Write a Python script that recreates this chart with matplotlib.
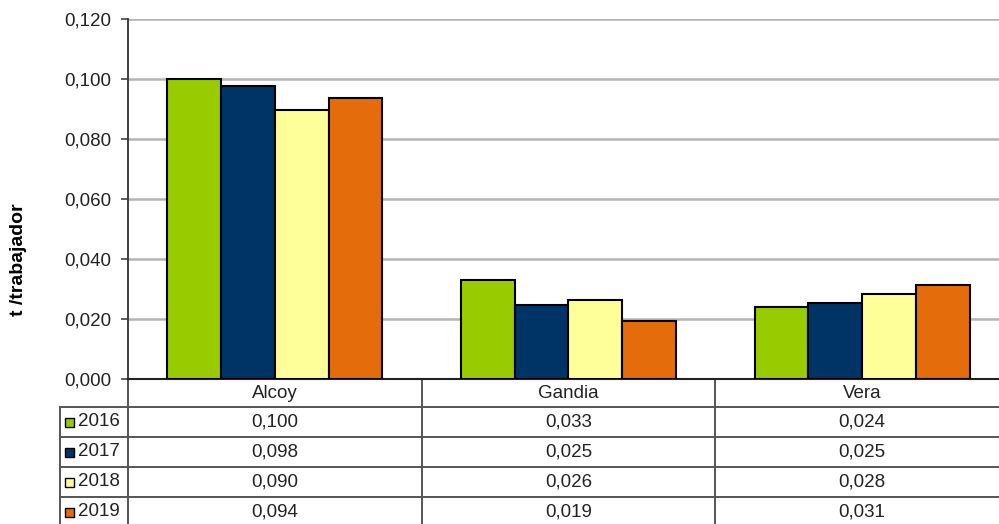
import numpy as np
import matplotlib
matplotlib.use("Agg")
import matplotlib.pyplot as plt
from matplotlib.patches import Rectangle

plt.rcParams["font.family"] = ["Liberation Sans", "DejaVu Sans"]

# data (bars slightly more precise than the rounded table)
CATEGORIES = ["Alcoy", "Gandia", "Vera"]
YEARS = ["2016", "2017", "2018", "2019"]
V_2016 = [0.1000, 0.0330, 0.0241]
V_2017 = [0.0977, 0.0247, 0.0254]
V_2018 = [0.0897, 0.0263, 0.0282]
V_2019 = [0.0937, 0.0193, 0.0313]
SERIES = [V_2016, V_2017, V_2018, V_2019]
COLORS = ["#99cc00", "#003366", "#ffff99", "#e46c0a"]
Y_TICKS = [0.0, 0.02, 0.04, 0.06, 0.08, 0.10, 0.12]


def fmt(v: float) -> str:
    return f"{v:.3f}".replace(".", ",")


W, H = 999, 524
fig = plt.figure(figsize=(W / 100, H / 100), dpi=100)

# plot area in pixels: left 128, right ~1009 (cropped), top 19, bottom 379
ax_l, ax_r, ax_t, ax_b = 128, 1009, 19, 379
ax_h = ax_b - ax_t
ax = fig.add_axes([ax_l / W, (H - ax_b) / H, (ax_r - ax_l) / W, ax_h / H])

x = np.arange(len(CATEGORIES))
bar_w = 0.183
for i, (vals, col, yr) in enumerate(zip(SERIES, COLORS, YEARS)):
    ax.bar(
        x + (i - 1.5) * bar_w,
        vals,
        width=bar_w,
        color=col,
        edgecolor="black",
        linewidth=1.5,
        label=yr,
        zorder=3,
    )

ax.set_xlim(-0.5, len(CATEGORIES) - 0.5)
ax.set_ylim(0, 0.12)
ax.set_yticks(Y_TICKS)
ax.set_yticklabels([fmt(v) for v in Y_TICKS], fontsize=13.5, color="#222222")
ax.set_xticks([])
ax.tick_params(axis="y", length=5, width=1.2, pad=7, color="#444444")
ax.grid(axis="y", color="#b4b4b4", linewidth=1.8, zorder=0)
for s in ["top", "right"]:
    ax.spines[s].set_visible(False)
ax.spines["left"].set_linewidth(1.3)
ax.spines["left"].set_color("#333333")
ax.spines["bottom"].set_linewidth(1.5)
ax.spines["bottom"].set_color("#222222")

fig.text(19 / W, (H - 260) / H, "t /trabajador", rotation=90, fontsize=14,
         fontweight="bold", ha="center", va="center")

# data table below the plot, drawn in x-data / pixel-offset coordinates
trans = ax.get_xaxis_transform()
px_per_unit = (ax_r - ax_l) / len(CATEGORIES)
x_left_col = -0.5 - (ax_l - 60) / px_per_unit
x_right = len(CATEGORIES) - 0.5 + 0.2


def yax(px_below: float) -> float:
    return -px_below / ax_h


line_kw = dict(transform=trans, clip_on=False, color="#555555", linewidth=1.4)
cat_row = 28
row_h = 30
n_rows = len(YEARS)
bottom_px = cat_row + row_h * n_rows + 10

# vertical lines at category boundaries
for b in np.arange(len(CATEGORIES) + 1) - 0.5:
    ax.plot([b, b], [0, yax(bottom_px)], **line_kw)
ax.plot([x_left_col, x_left_col], [yax(cat_row), yax(bottom_px)], **line_kw)

# horizontal row lines
for r in range(n_rows):
    y = yax(cat_row + r * row_h)
    ax.plot([x_left_col, x_right], [y, y], **line_kw)

# category names
for xi, cat in zip(x, CATEGORIES):
    ax.text(xi, yax(cat_row / 2), cat, transform=trans, ha="center",
            va="center", fontsize=13.5, color="#222222", clip_on=False)

# rows with legend keys and values
key_px = 9
for r, (vals, col, yr) in enumerate(zip(SERIES, COLORS, YEARS)):
    yc = cat_row + r * row_h + row_h / 2
    kx = x_left_col + 5 / px_per_unit
    ax.add_patch(Rectangle(
        (kx, yax(yc + key_px / 2)), key_px / px_per_unit, key_px / ax_h,
        transform=trans, clip_on=False, facecolor=col,
        edgecolor="black", linewidth=1.0))
    ax.text(x_left_col + 18 / px_per_unit, yax(yc), yr, transform=trans,
            ha="left", va="center", fontsize=13.5, color="#222222",
            clip_on=False)
    for xi, v in zip(x, vals):
        ax.text(xi, yax(yc), fmt(v), transform=trans, ha="center",
                va="center", fontsize=13.5, color="#222222", clip_on=False)

fig.savefig("out.png", dpi=100)
